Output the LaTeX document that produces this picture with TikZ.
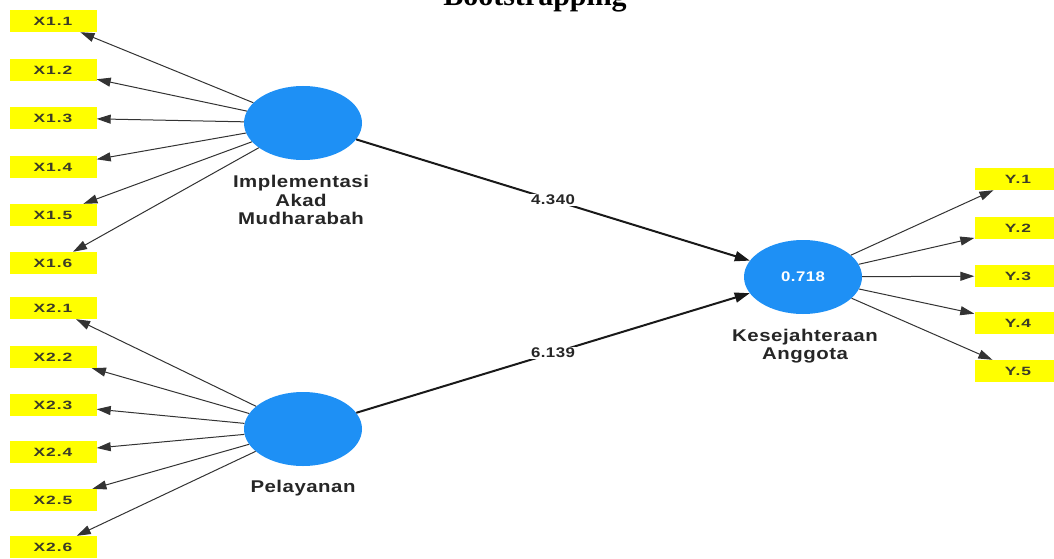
\documentclass[tikz,border=0pt]{standalone}
\usepackage{fontspec}
\setmainfont{Liberation Sans}
\newfontfamily\lvfont[FakeStretch=1.2,LetterSpace=3]{Liberation Sans}
\newfontfamily\indfont[FakeStretch=1.45,LetterSpace=8]{Liberation Sans}
\newfontfamily\titlefont{Liberation Serif}
\usetikzlibrary{arrows.meta,shapes.geometric}

\definecolor{lvblue}{RGB}{30,144,245}
\definecolor{indyellow}{RGB}{255,255,0}
\definecolor{indtext}{RGB}{60,60,40}

\tikzset{
  latent/.style={ellipse, fill=lvblue, minimum width=118pt, minimum height=74pt, inner sep=0pt},
  indicator/.style={fill=indyellow, minimum width=87pt, minimum height=22pt, inner sep=0pt,
    font=\indfont\bfseries\fontsize{12}{14}\selectfont, text=indtext},
  lvlabel/.style={align=center, font=\lvfont\bfseries\fontsize{17}{18.5}\selectfont, text=black!85},
  loading/.style={draw=black!80, line width=1pt, -{Triangle[length=14pt,width=9pt]}},
  structural/.style={draw=black!90, line width=2pt, -{Triangle[length=15pt,width=10pt]}},
  coef/.style={fill=white, inner sep=1.5pt, font=\lvfont\bfseries\fontsize{14}{16}\selectfont, text=black!85}
}

\begin{document}
\begin{tikzpicture}[x=1pt,y=-1pt]
\useasboundingbox (0,0) rectangle (1054,559);

\node[anchor=base, font=\titlefont\bfseries\fontsize{30}{32}\selectfont] (title) at (535,6) {Bootstrapping};

% latent variables
\node[latent] (impl) at (303,123) {};
\node[latent] (pel) at (303,429) {};
\node[latent, font=\lvfont\bfseries\fontsize{14}{16}\selectfont, text=white] (kes) at (803,277) {0.718};

\node[lvlabel] (impllabel) at (301,200) {Implementasi\\Akad\\Mudharabah};
\node[lvlabel] (pellabel) at (303,488) {Pelayanan};
\node[lvlabel] (keslabel) at (805,346) {Kesejahteraan\\Anggota};

% indicators
\node[indicator] (x11) at (53,21) {X1.1};
\node[indicator] (x12) at (53,70) {X1.2};
\node[indicator] (x13) at (53,118) {X1.3};
\node[indicator] (x14) at (53,167) {X1.4};
\node[indicator] (x15) at (53,215) {X1.5};
\node[indicator] (x16) at (53,263) {X1.6};

\node[indicator] (x21) at (53,308) {X2.1};
\node[indicator] (x22) at (53,357) {X2.2};
\node[indicator] (x23) at (53,405) {X2.3};
\node[indicator] (x24) at (53,452) {X2.4};
\node[indicator] (x25) at (53,500) {X2.5};
\node[indicator] (x26) at (53,547) {X2.6};

\node[indicator] (y1) at (1018,179) {Y.1};
\node[indicator] (y2) at (1018,228) {Y.2};
\node[indicator] (y3) at (1018,276) {Y.3};
\node[indicator] (y4) at (1018,323) {Y.4};
\node[indicator] (y5) at (1018,371) {Y.5};

% loadings
\draw[loading] (impl) -- (x11);
\draw[loading] (impl) -- (x12);
\draw[loading] (impl) -- (x13);
\draw[loading] (impl) -- (x14);
\draw[loading] (impl) -- (x15);
\draw[loading] (impl) -- (x16);

\draw[loading] (pel) -- (x21);
\draw[loading] (pel) -- (x22);
\draw[loading] (pel) -- (x23);
\draw[loading] (pel) -- (x24);
\draw[loading] (pel) -- (x25);
\draw[loading] (pel) -- (x26);

\draw[loading] (kes) -- (y1);
\draw[loading] (kes) -- (y2);
\draw[loading] (kes) -- (y3);
\draw[loading] (kes) -- (y4);
\draw[loading] (kes) -- (y5);

% inner model
\draw[structural] (impl) -- node[coef] (b1) {4.340} (kes);
\draw[structural] (pel) -- node[coef] (b2) {6.139} (kes);
\end{tikzpicture}
\end{document}
